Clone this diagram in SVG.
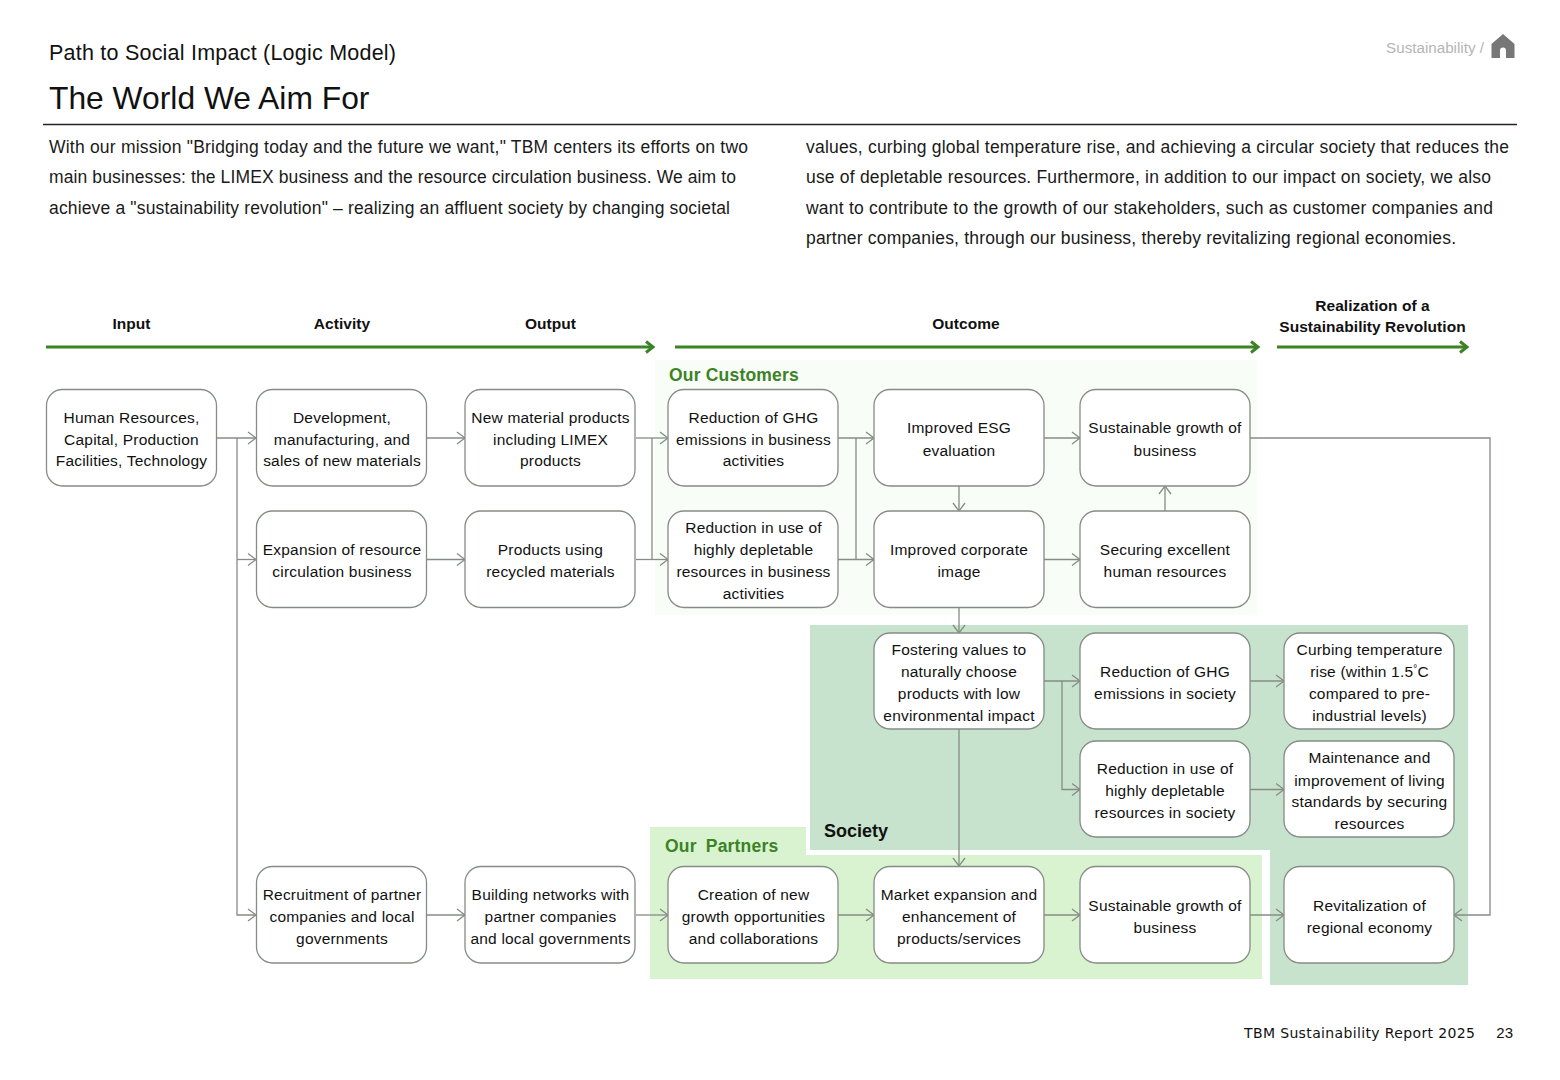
<svg xmlns="http://www.w3.org/2000/svg" width="1560" height="1080" viewBox="0 0 1560 1080">
<style>
text{font-family:"Liberation Sans",Arial,sans-serif;fill:#111}
.b{font-size:17.5px;fill:#1a1a1a}
.n rect{fill:#fff;stroke:#858c85;stroke-width:1.3}
.n text{font-size:15.500px;letter-spacing:.2px;text-anchor:middle}
.h{font-size:15.500px;font-weight:bold;text-anchor:middle;letter-spacing:.05px}
.g{font-size:17.500px;font-weight:bold;fill:#3c8226;letter-spacing:.2px}
.c path{fill:none;stroke:#858c85;stroke-width:1.3}
.a path{fill:none;stroke:#3c8226;stroke-width:3}
</style>
<defs>
<marker id="ar" markerUnits="userSpaceOnUse" markerWidth="14" markerHeight="16" refX="11" refY="8" orient="auto"><path d="M3 2 L11 8 L3 14" fill="none" stroke="#858c85" stroke-width="1.3"/></marker>
<marker id="ga" markerUnits="userSpaceOnUse" markerWidth="14" markerHeight="16" refX="11" refY="8" orient="auto"><path d="M4 2.500 L11 8 L4 13.500" fill="none" stroke="#3c8226" stroke-width="3"/></marker>
</defs>
<rect width="1560" height="1080" fill="#fff"/>
<g id="page-header">
<text x="49" y="60" font-size="21.5" textLength="347">Path to Social Impact (Logic Model)</text>
<text x="49" y="109" font-size="31.8">The World We Aim For</text>
<path d="M43 124.500H1517" stroke="#222" stroke-width="1.300"/>
<text x="1484" y="53" font-size="15.200" text-anchor="end" style="fill:#b5b5b5">Sustainability /</text>
<path d="M1503 34L1514.500 44V58H1506V50.500A3 3 0 0 0 1500 50.500V58H1491.500V44Z" fill="#777"/>
</g>
<g id="intro">
<text class="b" x="49" y="153" textLength="699">With our mission "Bridging today and the future we want," TBM centers its efforts on two</text>
<text class="b" x="49" y="183" textLength="687">main businesses: the LIMEX business and the resource circulation business. We aim to</text>
<text class="b" x="49" y="214" textLength="681">achieve a "sustainability revolution" – realizing an affluent society by changing societal</text>
<text class="b" x="806" y="153" textLength="703">values, curbing global temperature rise, and achieving a circular society that reduces the</text>
<text class="b" x="806" y="183" textLength="685">use of depletable resources. Furthermore, in addition to our impact on society, we also</text>
<text class="b" x="806" y="214" textLength="687">want to contribute to the growth of our stakeholders, such as customer companies and</text>
<text class="b" x="806" y="244" textLength="650">partner companies, through our business, thereby revitalizing regional economies.</text>
</g>
<g id="stage-headers">
<text class="h" x="131.500" y="329">Input</text>
<text class="h" x="342" y="329">Activity</text>
<text class="h" x="550.500" y="329">Output</text>
<text class="h" x="966" y="329">Outcome</text>
<text class="h" x="1372.500" y="311">Realization of a</text>
<text class="h" x="1372.500" y="332">Sustainability Revolution</text>
</g>
<g id="regions">
<rect x="655" y="360" width="602" height="255" fill="#f9fdf7"/>
<path d="M810 625H1468V985H1270V850H810Z" fill="#c8e3cd"/>
<path d="M650 827H806V855H1262V979H650Z" fill="#d9f3d0"/>
<text class="g" x="669" y="381">Our Customers</text>
<text class="g" x="665" y="852" word-spacing="4">Our Partners</text>
<text x="824" y="837" font-size="18" font-weight="bold">Society</text>
</g>
<g id="connectors" class="c">
<g class="a">
<path d="M46 347H653" marker-end="url(#ga)"/>
<path d="M675 347H1258" marker-end="url(#ga)"/>
<path d="M1277 347H1467" marker-end="url(#ga)"/>
</g>
<path d="M217 438H256" marker-end="url(#ar)"/>
<path d="M237 438V915H256" marker-end="url(#ar)"/>
<path d="M237 559.500H256" marker-end="url(#ar)"/>
<path d="M427 438H465" marker-end="url(#ar)"/>
<path d="M427 559.500H465" marker-end="url(#ar)"/>
<path d="M427 915H465" marker-end="url(#ar)"/>
<path d="M636 438H668" marker-end="url(#ar)"/>
<path d="M636 559.500H668" marker-end="url(#ar)"/>
<path d="M652 438V559.500"/>
<path d="M636 915H668" marker-end="url(#ar)"/>
<path d="M838 438H874" marker-end="url(#ar)"/>
<path d="M838 559.500H874" marker-end="url(#ar)"/>
<path d="M856 438V559.500"/>
<path d="M838 915H874" marker-end="url(#ar)"/>
<path d="M1044 438H1080" marker-end="url(#ar)"/>
<path d="M1044 559.500H1080" marker-end="url(#ar)"/>
<path d="M959 486V511" marker-end="url(#ar)"/>
<path d="M959 608V633" marker-end="url(#ar)"/>
<path d="M959 729V866" marker-end="url(#ar)"/>
<path d="M1165 511V486" marker-end="url(#ar)"/>
<path d="M1044 681H1080" marker-end="url(#ar)"/>
<path d="M1062 681V789.500H1080" marker-end="url(#ar)"/>
<path d="M1250 681H1284" marker-end="url(#ar)"/>
<path d="M1250 789.500H1284" marker-end="url(#ar)"/>
<path d="M1044 915H1080" marker-end="url(#ar)"/>
<path d="M1250 915H1284" marker-end="url(#ar)"/>
<path d="M1250 438H1490V915H1454" marker-end="url(#ar)"/>
</g>
<g id="n1" class="n"><rect x="46.500" y="389.500" width="170" height="96.500" rx="16"/><text x="131.500" y="423">Human Resources,</text><text x="131.500" y="445">Capital, Production</text><text x="131.500" y="466">Facilities, Technology</text></g>
<g id="n2" class="n"><rect x="256.500" y="389.500" width="170" height="96.500" rx="16"/><text x="342" y="423">Development,</text><text x="342" y="445">manufacturing, and</text><text x="342" y="466">sales of new materials</text></g>
<g id="n3" class="n"><rect x="465" y="389.500" width="170" height="96.500" rx="16"/><text x="550.500" y="423">New material products</text><text x="550.500" y="445">including LIMEX</text><text x="550.500" y="466">products</text></g>
<g id="n4" class="n"><rect x="668" y="389.500" width="170" height="96.500" rx="16"/><text x="753.500" y="423">Reduction of GHG</text><text x="753.500" y="445">emissions in business</text><text x="753.500" y="466">activities</text></g>
<g id="n5" class="n"><rect x="874" y="389.500" width="170" height="96.500" rx="16"/><text x="959" y="433">Improved ESG</text><text x="959" y="456">evaluation</text></g>
<g id="n6" class="n"><rect x="1080" y="389.500" width="170" height="96.500" rx="16"/><text x="1165" y="433">Sustainable growth of</text><text x="1165" y="456">business</text></g>
<g id="n7" class="n"><rect x="256.500" y="511" width="170" height="96.500" rx="16"/><text x="342" y="555">Expansion of resource</text><text x="342" y="577">circulation business</text></g>
<g id="n8" class="n"><rect x="465" y="511" width="170" height="96.500" rx="16"/><text x="550.500" y="555">Products using</text><text x="550.500" y="577">recycled materials</text></g>
<g id="n9" class="n"><rect x="668" y="511" width="170" height="96.500" rx="16"/><text x="753.500" y="533">Reduction in use of</text><text x="753.500" y="555">highly depletable</text><text x="753.500" y="577">resources in business</text><text x="753.500" y="599">activities</text></g>
<g id="n10" class="n"><rect x="874" y="511" width="170" height="96.500" rx="16"/><text x="959" y="555">Improved corporate</text><text x="959" y="577">image</text></g>
<g id="n11" class="n"><rect x="1080" y="511" width="170" height="96.500" rx="16"/><text x="1165" y="555">Securing excellent</text><text x="1165" y="577">human resources</text></g>
<g id="n12" class="n"><rect x="874" y="633" width="170" height="96" rx="16"/><text x="959" y="655">Fostering values to</text><text x="959" y="677">naturally choose</text><text x="959" y="699">products with low</text><text x="959" y="721">environmental impact</text></g>
<g id="n13" class="n"><rect x="1080" y="633" width="170" height="96" rx="16"/><text x="1165" y="677">Reduction of GHG</text><text x="1165" y="699">emissions in society</text></g>
<g id="n14" class="n"><rect x="1284" y="633" width="170" height="96" rx="16"/><text x="1369.500" y="655">Curbing temperature</text><text x="1369.500" y="677">rise (within 1.5<tspan font-size="10" dy="-5">°</tspan><tspan dy="5">C</tspan></text><text x="1369.500" y="699">compared to pre-</text><text x="1369.500" y="721">industrial levels)</text></g>
<g id="n15" class="n"><rect x="1080" y="741" width="170" height="96" rx="16"/><text x="1165" y="774">Reduction in use of</text><text x="1165" y="796">highly depletable</text><text x="1165" y="818">resources in society</text></g>
<g id="n16" class="n"><rect x="1284" y="741" width="170" height="96" rx="16"/><text x="1369.500" y="763">Maintenance and</text><text x="1369.500" y="786">improvement of living</text><text x="1369.500" y="807">standards by securing</text><text x="1369.500" y="829">resources</text></g>
<g id="n17" class="n"><rect x="256.500" y="866.500" width="170" height="96.500" rx="16"/><text x="342" y="900">Recruitment of partner</text><text x="342" y="922">companies and local</text><text x="342" y="944">governments</text></g>
<g id="n18" class="n"><rect x="465" y="866.500" width="170" height="96.500" rx="16"/><text x="550.500" y="900">Building networks with</text><text x="550.500" y="922">partner companies</text><text x="550.500" y="944">and local governments</text></g>
<g id="n19" class="n"><rect x="668" y="866.500" width="170" height="96.500" rx="16"/><text x="753.500" y="900">Creation of new</text><text x="753.500" y="922">growth opportunities</text><text x="753.500" y="944">and collaborations</text></g>
<g id="n20" class="n"><rect x="874" y="866.500" width="170" height="96.500" rx="16"/><text x="959" y="900">Market expansion and</text><text x="959" y="922">enhancement of</text><text x="959" y="944">products/services</text></g>
<g id="n21" class="n"><rect x="1080" y="866.500" width="170" height="96.500" rx="16"/><text x="1165" y="911">Sustainable growth of</text><text x="1165" y="933">business</text></g>
<g id="n22" class="n"><rect x="1284" y="866.500" width="170" height="96.500" rx="16"/><text x="1369.500" y="911">Revitalization of</text><text x="1369.500" y="933">regional economy</text></g>
<g id="footer">
<text x="1244" y="1038" font-size="14" textLength="231" style="font-family:'DejaVu Sans',sans-serif">TBM Sustainability Report 2025</text>
<text x="1513" y="1038" font-size="15" text-anchor="end">23</text>
</g>
</svg>
